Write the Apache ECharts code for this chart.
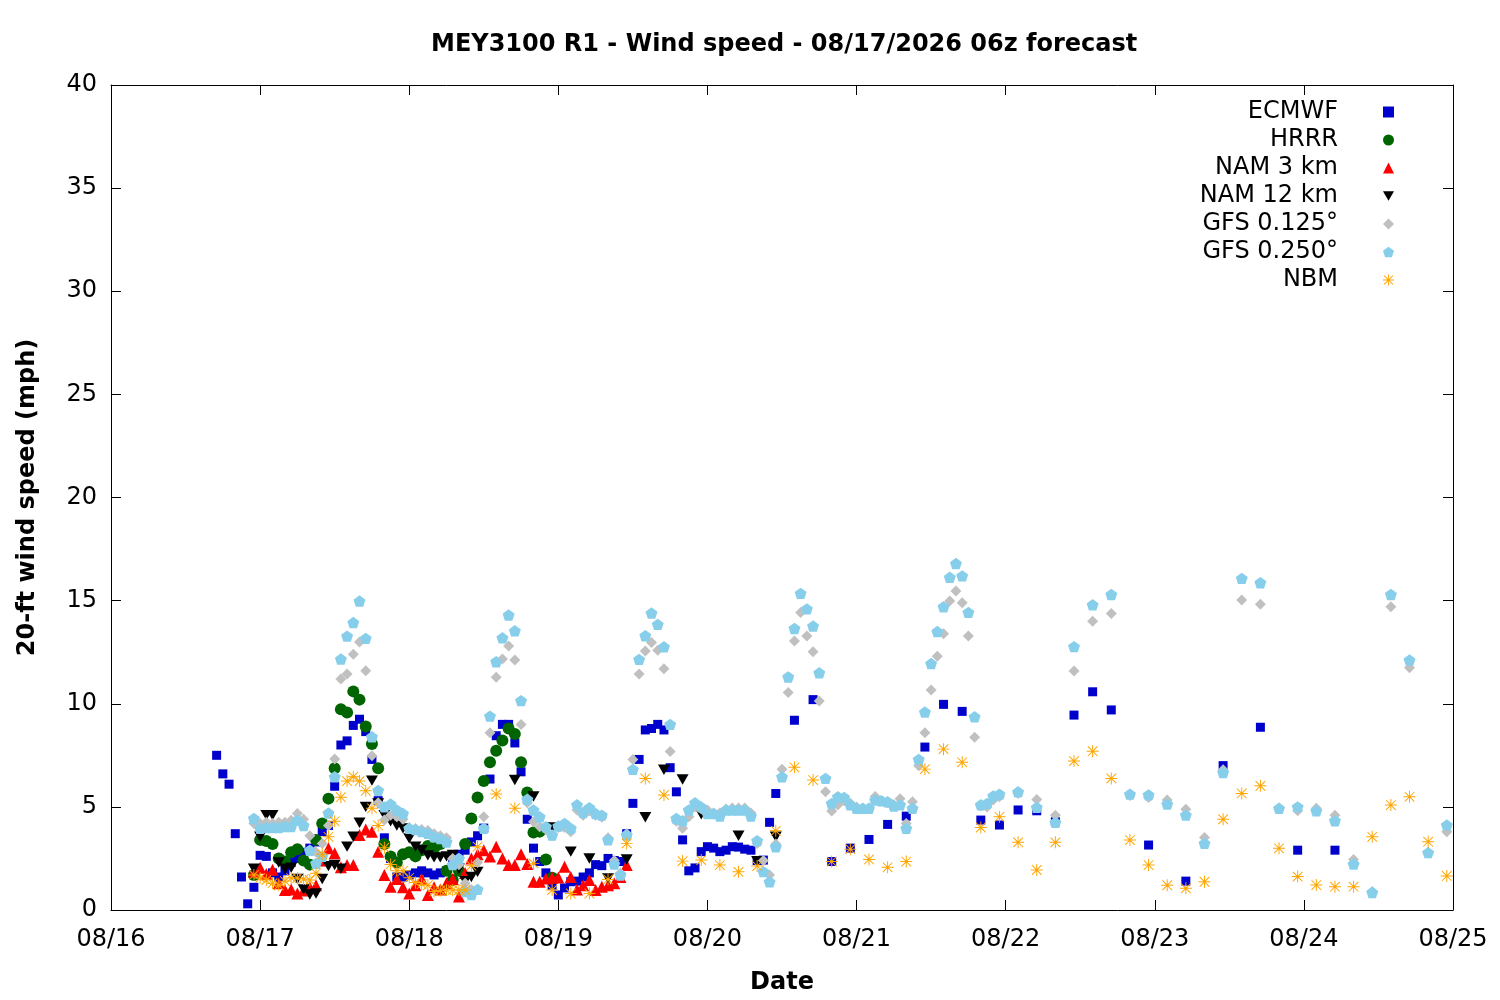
<!DOCTYPE html>
<html>
<head>
<meta charset="utf-8">
<title>MEY3100 R1 - Wind speed</title>
<script src="https://cdn.jsdelivr.net/npm/echarts@6/dist/echarts.min.js"></script>
<style>
    html, body { margin: 0; padding: 0; background: #fff; }
    #chart { width: 1500px; height: 1000px; }
</style>
</head>
<body>
<div id="chart"></div>
<script>
// x is hours after 08/16 00:00 local time; one tick per day
const DAY_LABELS = ['08/16', '08/17', '08/18', '08/19', '08/20', '08/21', '08/22', '08/23', '08/24', '08/25'];

// ECMWF: hourly from h17, 3-hourly from h110, 6-hourly from h167
const ecmwfHourly = [
    7.5, 6.6, 6.1, 3.7, 1.6, 0.3, 1.1, 2.65, 2.6, 1.8,
    1.6, 1.9, 2.3, 2.5, 2.8, 3.0, 3.3, 3.8, 4.1, 6.0,
    8.0, 8.2, 8.95, 9.25, 8.65, 7.3, 5.3, 3.5, 2.5, 1.6,
    1.6, 1.7, 1.8, 1.9, 1.8, 1.7, 1.8, 1.9, 2.2, 2.7,
    2.9, 3.3, 3.6, 3.97, 6.35, 8.45, 9.0, 9.0, 8.1, 6.7,
    4.4, 3.0, 2.35, 1.8, 1.2, 0.73, 1.07, 1.37, 1.4, 1.6,
    1.8, 2.2, 2.15, 2.5, 2.4, 2.35, 3.7, 5.17, 7.3, 8.73,
    8.8, 9.0, 8.73, 6.9, 5.73, 3.4, 1.9, 2.04, 2.83, 3.07,
    3.0, 2.83, 2.9, 3.07, 3.05, 2.95, 2.9, 2.4, 2.42, 4.25,
    5.65,
];
const ecmwf3h = [9.2, 10.2, 2.35, 3.0, 3.42, 4.15, 4.55, 7.9, 9.97, 9.63, 4.36, 4.12, 4.85, 4.81, 4.28, 9.45, 10.58, 9.7];
const ecmwf6h = [3.15, 1.4, 7.0, 8.86, 2.9, 2.9];

// HRRR: hourly from h23
const hrrrHourly = [
    1.7, 3.4, 3.35, 3.2, 2.5, 2.35, 2.8, 2.94, 2.4, 2.2,
    3.4, 4.2, 5.4, 6.87, 9.73, 9.58, 10.6, 10.2, 8.9, 8.05,
    6.87, 3.2, 2.6, 2.3, 2.7, 2.8, 2.6, 2.9, 3.1, 3.0,
    3.2, 1.9, 1.45, 1.9, 3.2, 4.44, 5.46, 6.25, 7.16, 7.72,
    8.22, 8.8, 8.53, 7.16, 5.7, 3.76, 3.8, 2.45, 1.56,
];

// NAM 3 km: hourly from h23
const nam3Hourly = [
    1.85, 2.05, 1.75, 1.95, 1.3, 0.97, 1.0, 0.8, 0.95, 1.1,
    1.2, 2.4, 3.0, 2.75, 2.07, 2.18, 2.18, 3.64, 3.9, 3.8,
    2.83, 1.7, 1.13, 1.5, 1.1, 0.8, 1.2, 1.5, 0.73, 1.1,
    1.0, 1.3, 1.5, 0.65, 1.8, 2.5, 2.7, 2.9, 2.6, 3.07,
    2.5, 2.18, 2.18, 2.7, 2.23, 1.37, 1.37, 1.53, 1.56, 1.58,
    2.1, 1.6, 1.0, 1.2, 1.45, 0.97, 1.13, 1.2, 1.3, 1.6,
    2.18,
];

// NAM 12 km: hourly from h23, 3-hourly from h62
const nam12Hourly = [
    2.0, 3.55, 4.6, 4.6, 2.3, 2.0, 2.05, 1.5, 1.0, 0.75,
    0.8, 1.5, 2.13, 2.18, 2.0, 3.07, 3.55, 4.23, 5.0, 6.27,
    5.17, 4.6, 4.3, 4.1, 3.96, 3.47, 3.07, 2.9, 2.65, 2.55,
    2.55, 2.6, 2.67, 2.0, 1.4, 1.6, 1.85,
];
const nam12ThreeHourly = ['-', 6.3, 5.5, 4.0, 2.83, 2.5, 1.53, 2.45, 4.5, 6.8, 6.33, 4.64, 4.6, 3.6, 2.37, 3.55];

// GFS 0.125: hourly from h23, 3-hourly from h146
const gfs125Hourly = [
    4.2, 4.2, 4.25, 4.2, 4.25, 4.25, 4.35, 4.68, 4.4, 3.6,
    2.8, 3.23, 4.1, 7.32, 11.2, 11.44, 12.4, 13.0, 11.6, 7.48,
    5.2, 4.36, 4.6, 4.52, 4.4, 4.0, 3.95, 3.9, 3.85, 3.7,
    3.6, 3.5, 2.5, 2.2, 1.3, 1.0, 2.3, 4.52, 8.6, 11.28,
    12.17, 12.8, 12.12, 9.0, 5.2, 4.28, 4.04, 3.9, 3.6, 4.0,
    4.0, 3.8, 4.85, 4.6, 4.8, 4.6, 4.5, 3.5, 2.4, 1.8,
    3.7, 7.3, 11.44, 12.56, 12.97, 12.6, 11.7, 7.68, 4.3, 3.96,
    4.52, 5.0, 4.9, 4.85, 4.7, 4.7, 4.9, 4.95, 4.95, 4.95,
    4.7, 3.23, 2.4, 1.7, 3.2, 6.82, 10.55, 13.04, 14.43, 13.28,
    12.52, 10.13, 5.73, 4.8, 5.1, 5.3, 5.17, 5.0, 4.9, 4.95,
    5.5, 5.3, 5.2, 5.1, 5.4, 4.2, 5.25, 7.0, 8.6, 10.67,
    12.3, 13.4, 14.98, 15.47, 14.9, 13.28, 8.37, 5.04, 5.0, 5.33,
    5.49,
];
const gfs125ThreeHourly = [
    5.65, 5.36, 4.6, 11.59, 14.0, 14.38, 5.55, 5.46, 5.33, 4.88,
    3.52, 6.8, 15.03, 14.82, 4.95, 4.81, 4.93, 4.6, 2.45, 0.9,
    14.7, 11.75, 2.8, 3.79,
];

// GFS 0.250: hourly from h23, 3-hourly from h146
const gfs250Hourly = [
    4.44, 3.96, 4.0, 4.0, 4.0, 4.05, 4.05, 4.36, 4.1, 2.9,
    2.26, 2.6, 4.7, 6.46, 12.17, 13.28, 13.94, 14.98, 13.17, 8.4,
    5.8, 5.0, 5.14, 4.85, 4.68, 3.96, 3.9, 3.8, 3.72, 3.55,
    3.47, 3.3, 2.2, 2.5, 0.9, 0.75, 1.0, 3.96, 9.4, 12.04,
    13.2, 14.3, 13.54, 10.15, 5.37, 4.85, 4.52, 4.04, 3.64, 4.07,
    4.2, 3.96, 5.1, 4.73, 4.96, 4.68, 4.6, 3.4, 2.23, 1.7,
    3.64, 6.82, 12.15, 13.3, 14.4, 13.85, 12.76, 9.0, 4.44, 4.33,
    4.85, 5.2, 5.0, 4.68, 4.68, 4.56, 4.85, 4.85, 4.85, 4.85,
    4.56, 3.36, 1.86, 1.37, 3.07, 6.46, 11.3, 13.65, 15.35, 14.6,
    13.77, 11.5, 6.38, 5.17, 5.49, 5.46, 5.1, 4.93, 4.93, 4.93,
    5.33, 5.3, 5.25, 5.04, 5.1, 3.96, 4.93, 7.3, 9.6, 11.95,
    13.5, 14.7, 16.13, 16.8, 16.2, 14.43, 9.37, 5.1, 5.17, 5.53,
    5.62,
];
const gfs250ThreeHourly = [
    5.73, 4.98, 4.25, 12.77, 14.8, 15.3, 5.62, 5.58, 5.14, 4.6,
    3.23, 6.67, 16.08, 15.87, 4.93, 5.0, 4.81, 4.33, 2.23, 0.85,
    15.3, 12.12, 2.78, 4.12,
];

// NBM: hourly from h23, 3-hourly from h62
const nbmHourly = [
    1.7, 1.55, 1.45, 1.3, 1.2, 1.4, 1.55, 1.55, 1.5, 1.45,
    1.78, 2.7, 3.55, 4.3, 5.47, 6.25, 6.46, 6.25, 5.78, 4.93,
    4.1, 3.02, 2.21, 1.9, 1.9, 1.56, 1.33, 1.25, 1.2, 0.9,
    0.95, 0.97, 0.97, 0.97, 0.97, 2.15, 3.07,
];
const nbmThreeHourly = [
    5.62, 4.93, 2.26, 0.97, 0.8, 0.8, 1.48, 3.23, 6.38, 5.58,
    2.37, 2.42, 2.18, 1.85, 2.13, 3.84, 6.92, 6.3, 2.35, 2.95,
    2.45, 2.07, 2.35, 6.83, 7.8, 7.16, 4.0, 4.52, 3.28, 1.94,
    3.28, 7.22, 7.7, 6.38, 3.39, 2.18, 1.2, 1.05, 1.37, 4.4,
    5.65, 6.02, 2.99, 1.62, 1.21, 1.13, 1.13, 3.55, 5.09, 5.49,
    3.31, 1.65,
];

// helpers
const FONT = 'DejaVu Sans';
const steps = (start, step, values) => values.map((v, i) => [start + i * step, v]);

const SYMBOLS = {
    downTriangle: 'path://M0,0 L20,0 L10,17.3 Z',
    pentagon: 'path://M10,0 L19.51,6.91 L15.88,18.09 L4.12,18.09 L0.49,6.91 Z',
    asterisk: 'path://M0,9.2 L20,9.2 L20,10.8 L0,10.8 Z M9.2,0 L10.8,0 L10.8,20 L9.2,20 Z ' +
        'M2.57,1.43 L18.57,17.43 L17.43,18.57 L1.43,2.57 Z M18.57,2.57 L2.57,18.57 L1.43,17.43 L17.43,1.43 Z',
};

const models = [
    {name: 'ECMWF', color: '#0000cc', symbol: 'rect', size: 9,
        data: [...steps(17, 1, ecmwfHourly), ...steps(110, 3, ecmwf3h), ...steps(167, 6, ecmwf6h)]},
    {name: 'HRRR', color: '#006400', symbol: 'circle', size: 12,
        data: steps(23, 1, hrrrHourly)},
    {name: 'NAM 3 km', color: '#ff0000', symbol: 'triangle', size: 12,
        data: steps(23, 1, nam3Hourly)},
    {name: 'NAM 12 km', color: '#000000', symbol: SYMBOLS.downTriangle, size: 12,
        data: [...steps(23, 1, nam12Hourly), ...steps(62, 3, nam12ThreeHourly)]},
    {name: 'GFS 0.125°', color: '#c0c0c0', symbol: 'diamond', size: 11,
        data: [...steps(23, 1, gfs125Hourly), ...steps(146, 3, gfs125ThreeHourly)]},
    {name: 'GFS 0.250°', color: '#87ceeb', symbol: SYMBOLS.pentagon, size: 12,
        data: [...steps(23, 1, gfs250Hourly), ...steps(146, 3, gfs250ThreeHourly)]},
    {name: 'NBM', color: '#ffa500', symbol: SYMBOLS.asterisk, size: 12,
        data: [...steps(23, 1, nbmHourly), ...steps(62, 3, nbmThreeHourly)]},
];

// gnuplot style frame: inward ticks mirrored on all four sides
const tick = () => ({show: true, inside: true, length: 10, lineStyle: {color: '#000', width: 1}});
const frameLine = () => ({show: true, onZero: false, lineStyle: {color: '#000', width: 1}});

const chart = echarts.init(document.getElementById('chart'), null, {renderer: 'canvas'});
chart.setOption({
    animation: false,
    backgroundColor: '#fff',
    textStyle: {fontFamily: FONT},
    title: {
        text: 'MEY3100 R1 - Wind speed - 08/17/2026 06z forecast',
        left: 426,
        top: 28,
        textStyle: {fontFamily: FONT, fontSize: 24, fontWeight: 'bold', color: '#000'},
    },
    legend: {
        orient: 'vertical',
        align: 'right',
        right: 106,
        top: 98,
        padding: 0,
        itemGap: 0,
        itemWidth: 11,
        itemHeight: 11,
        selectedMode: false,
        textStyle: {fontFamily: FONT, fontSize: 24, color: '#000', lineHeight: 28, padding: [0, 40, 0, 0]},
        data: models.map(m => m.name),
    },
    grid: {left: 111, right: 47, top: 85, bottom: 90},
    xAxis: [
        {
            type: 'value', position: 'bottom', min: 0, max: 216, interval: 24,
            name: 'Date', nameLocation: 'middle', nameGap: 61,
            nameTextStyle: {fontFamily: FONT, fontSize: 24, fontWeight: 'bold', color: '#000'},
            axisLine: frameLine(), axisTick: tick(), splitLine: {show: false},
            axisLabel: {
                fontFamily: FONT, fontSize: 24, color: '#000', margin: 18,
                formatter: v => DAY_LABELS[Math.round(v / 24)],
            },
        },
        {
            type: 'value', position: 'top', min: 0, max: 216, interval: 24,
            axisLine: frameLine(), axisTick: tick(), splitLine: {show: false}, axisLabel: {show: false},
        },
    ],
    yAxis: [
        {
            type: 'value', position: 'left', min: 0, max: 40, interval: 5,
            name: '20-ft wind speed (mph)', nameLocation: 'middle', nameGap: 71,
            nameTextStyle: {fontFamily: FONT, fontSize: 24, fontWeight: 'bold', color: '#000'},
            axisLine: frameLine(), axisTick: tick(), splitLine: {show: false},
            axisLabel: {fontFamily: FONT, fontSize: 24, color: '#000', margin: 14},
        },
        {
            type: 'value', position: 'right', min: 0, max: 40, interval: 5,
            axisLine: frameLine(), axisTick: tick(), splitLine: {show: false}, axisLabel: {show: false},
        },
    ],
    series: models.map(m => ({
        name: m.name,
        type: 'scatter',
        xAxisIndex: 0,
        yAxisIndex: 0,
        symbol: m.symbol,
        symbolSize: m.size,
        symbolKeepAspect: true,
        itemStyle: {color: m.color, opacity: 1},
        emphasis: {disabled: true},
        data: m.data,
    })),
});
</script>
</body>
</html>
